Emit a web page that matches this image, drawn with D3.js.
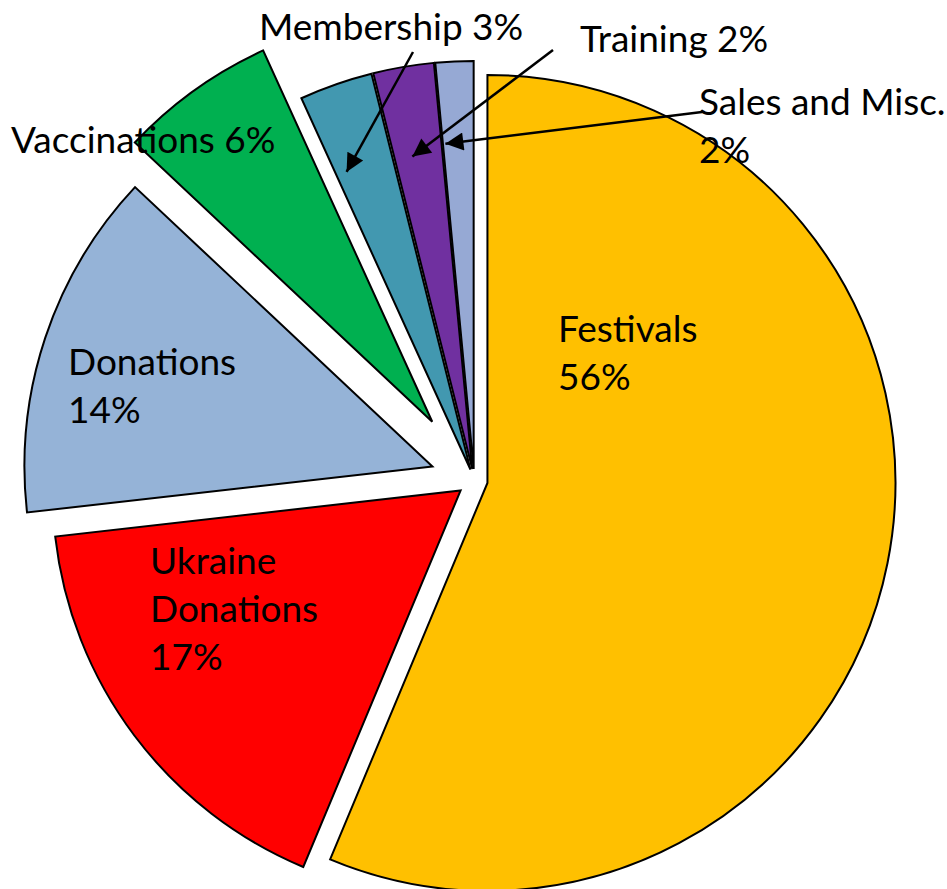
<!DOCTYPE html>
<html>
<head>
<meta charset="utf-8">
<script src="https://cdn.jsdelivr.net/npm/d3@7"></script>
<style>
  body { margin: 0; background: #fff; }
  text { font-family: Lato, "Noto Sans", sans-serif; fill: #000; }
</style>
</head>
<body>
<div id="chart"></div>
<script>
// slice data, clockwise from 12 o'clock
const categories = ["Festivals", "Ukraine Donations", "Donations", "Vaccinations", "Membership", "Training", "Sales and Misc."];
const shares = [56.3, 16.9, 13.8, 6.2, 2.9, 2.4, 1.5];
const colours = ["#FFC000", "#FF0000", "#95B3D7", "#00B050", "#4298B0", "#7030A0", "#96A9D4"];

// how far each slice is pulled out (px)
const explode = [13.5, 17, 44, 72, 11.4, 11.4, 11.4];

// label placement: left x, first baseline, how the text wraps
const labelLayout = [
    {x: 558, y: 342, wrap: "break"},
    {x: 150, y: 574, wrap: "words"},
    {x: 68, y: 375, wrap: "break"},
    {x: 11, y: 153, wrap: "inline"},
    {x: 259, y: 40, wrap: "inline"},
    {x: 580, y: 52, wrap: "inline"},
    {x: 699, y: 115, wrap: "break"}
];
// arrows for the thin slices: start point, and where the tip lands in the slice
const arrows = [
    {slice: 4, x0: 413, y0: 52, f: 0.18, rr: 0.79},
    {slice: 5, x0: 553, y0: 50, f: 0.37, rr: 0.78},
    {slice: 6, x0: 702, y0: 112, f: 0.08, rr: 0.80}
];

var width = 947, height = 889;
var cx = 474.2, cy = 480.3, radius = 408;
var fontSize = 37, lineGap = 48;

var svg = d3.select("#chart")
    .append("svg")
    .attr("width", width)
    .attr("height", height);

var defs = svg.append("defs");
defs.append("marker")
    .attr("id", "head")
    .attr("viewBox", "0 0 10 10")
    .attr("refX", 10)
    .attr("refY", 5)
    .attr("markerUnits", "userSpaceOnUse")
    .attr("markerWidth", 22)
    .attr("markerHeight", 18)
    .attr("orient", "auto")
    .append("path")
    .attr("d", "M0,0 L10,5 L0,10 z")
    .attr("fill", "#000");

var data = categories.map(function(c, i) {
    return {name: c, value: shares[i], colour: colours[i], pull: explode[i]};
});

var pie = d3.pie()
    .sort(null)
    .value(function(d) { return d.value; })
    .startAngle(0)
    .endAngle(2 * Math.PI);

var arc = d3.arc()
    .innerRadius(0)
    .outerRadius(radius);

var arcs = pie(data);

function polar(a, r) {
    return [r * Math.sin(a), -r * Math.cos(a)];
}
function offsetOf(d) {
    var mid = (d.startAngle + d.endAngle) / 2;
    return polar(mid, d.data.pull);
}

var g = svg.append("g")
    .attr("transform", "translate(" + cx + "," + cy + ")");

g.selectAll("path.slice")
    .data(arcs)
    .enter()
    .append("path")
    .attr("class", "slice")
    .attr("d", arc)
    .attr("transform", function(d) {
        var o = offsetOf(d);
        return "translate(" + o[0] + "," + o[1] + ")";
    })
    .attr("fill", function(d) { return d.data.colour; })
    .attr("stroke", "#000")
    .attr("stroke-width", 2)
    .attr("stroke-linejoin", "miter");

// labels
function labelLines(d, i) {
    var pct = Math.round(d.value) + "%";
    var w = labelLayout[i].wrap;
    if (w == "inline") return [d.name + " " + pct];
    if (w == "words") return d.name.split(" ").concat([pct]);
    return [d.name, pct];
}

var labels = svg.selectAll("text.label")
    .data(data)
    .enter()
    .append("text")
    .attr("class", "label")
    .attr("font-size", fontSize)
    .attr("x", function(d, i) { return labelLayout[i].x; })
    .attr("y", function(d, i) { return labelLayout[i].y; });

labels.each(function(d, i) {
    var t = d3.select(this);
    labelLines(d, i).forEach(function(line, k) {
        t.append("tspan")
            .attr("x", labelLayout[i].x)
            .attr("dy", k == 0 ? 0 : lineGap)
            .text(line);
    });
});

// arrows pointing into the small slices
arrows.forEach(function(a) {
    var d = arcs[a.slice];
    var o = offsetOf(d);
    var ang = d.startAngle + a.f * (d.endAngle - d.startAngle);
    var p = polar(ang, a.rr * radius);
    var tx = cx + o[0] + p[0], ty = cy + o[1] + p[1];
    svg.append("line")
        .attr("x1", a.x0)
        .attr("y1", a.y0)
        .attr("x2", tx)
        .attr("y2", ty)
        .attr("stroke", "#000")
        .attr("stroke-width", 2.5)
        .attr("marker-end", "url(#head)");
});
</script>
</body>
</html>
